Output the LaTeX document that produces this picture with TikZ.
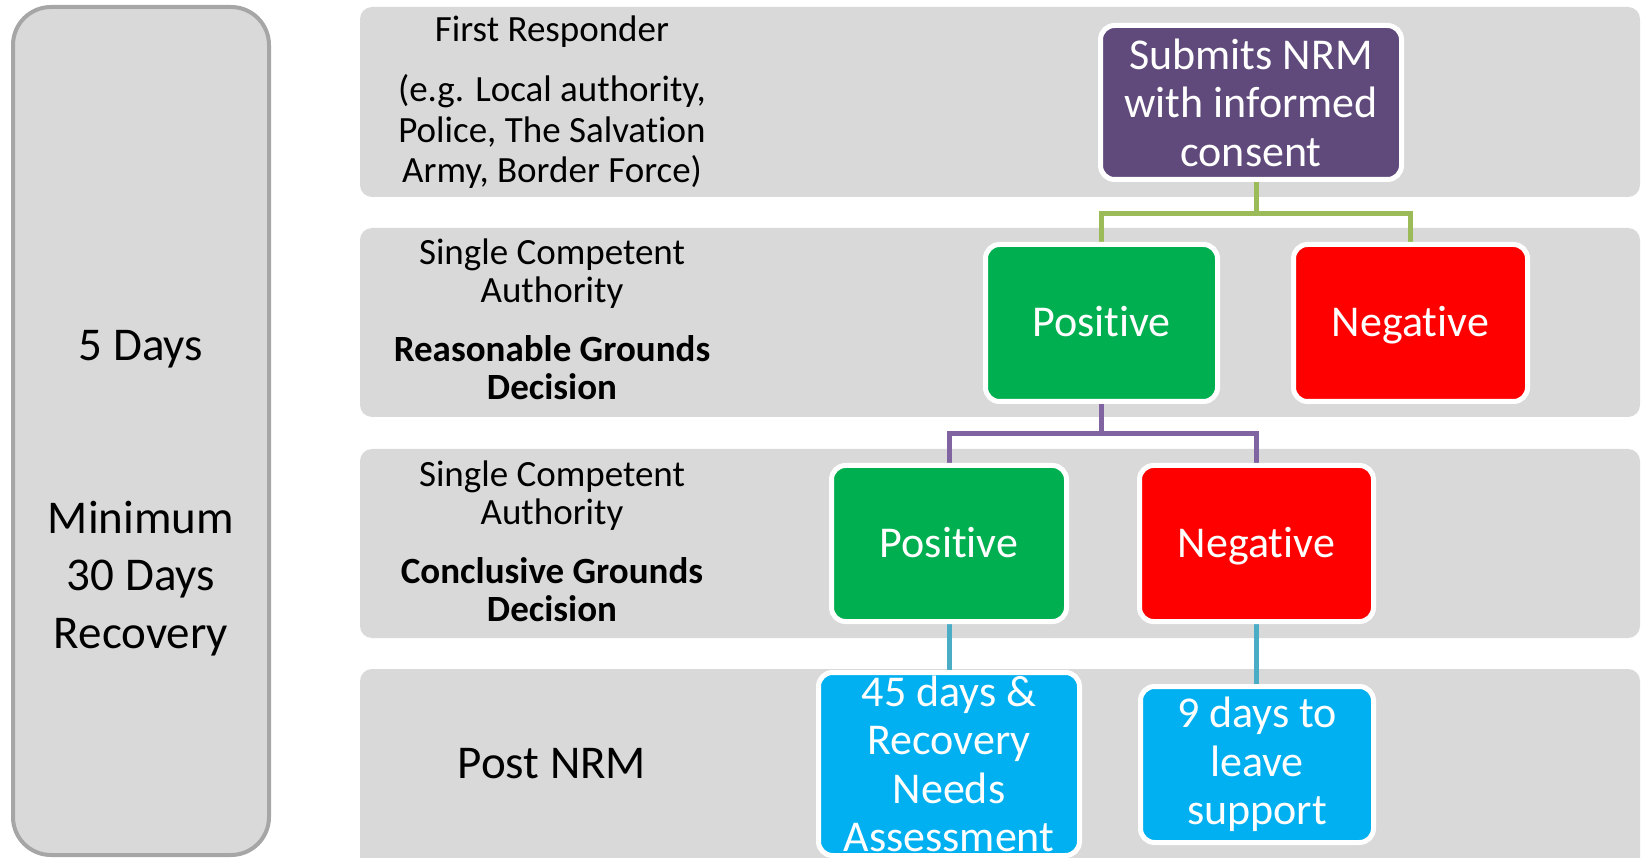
\documentclass[tikz,border=0pt]{standalone}
\usepackage{fontspec}
\setmainfont{Carlito}[Ligatures={NoCommon}]
\usetikzlibrary{calc}
\definecolor{bandgray}{HTML}{D9D9D9}
\definecolor{edgegray}{HTML}{A6A6A6}
\definecolor{nrmpurple}{HTML}{604A7B}
\definecolor{posgreen}{HTML}{00B050}
\definecolor{negred}{HTML}{FF0000}
\definecolor{infoblue}{HTML}{00B0F0}
\definecolor{linegreen}{HTML}{9BBB59}
\definecolor{linepurple}{HTML}{8064A2}
\definecolor{lineblue}{HTML}{4BACC6}
\pgfdeclarelayer{back}
\pgfdeclarelayer{mid}
\pgfsetlayers{back,mid,main}
\begin{document}
\begin{tikzpicture}[x=1pt,y=-1pt,
  sidebox/.style={draw=edgegray, line width=4pt, fill=bandgray, rounded corners=38pt,
    minimum width=256pt, minimum height=848pt, inner sep=0pt},
  band/.style={fill=bandgray, rounded corners=12pt, inner sep=0pt, minimum width=1280pt},
  cbox/.style={rounded corners=14pt, draw=white, line width=5pt, text=white, align=center,
    inner sep=0pt, font=\fontsize{44}{48.5}\selectfont},
  oneline/.style={text height=28pt, text depth=0pt},
  lbl/.style={anchor=base, inner sep=0pt, font=\fontsize{37}{40}\selectfont},
  lblbold/.style={anchor=base, inner sep=0pt, font=\fontsize{37}{40}\selectfont\bfseries},
  bigtext/.style={anchor=base, inner sep=0pt, font=\fontsize{47}{57}\selectfont},
  conn/.style={line width=5pt, line cap=butt}
]
\useasboundingbox (0,0) rectangle (1650,858);

\begin{pgfonlayer}{back}
  \node[sidebox] (side) at (141,431) {};
  \node[band, minimum height=190pt] (band1) at (1000,102) {};
  \node[band, minimum height=189pt] (band2) at (1000,322.5) {};
  \node[band, minimum height=189pt] (band3) at (1000,543.5) {};
  \node[band, minimum height=211pt] (band4) at (1000,774.5) {};
\end{pgfonlayer}

% left column texts
\node[bigtext] (fivedays) at (141,361) {5 Days};
\node[bigtext] (minA) at (141,533) {Minimum};
\node[bigtext] (minB) at (141,590.5) {30 Days};
\node[bigtext] (minC) at (141,648) {Recovery};

% band labels
\node[lbl] (frA) at (552,42) {First Responder};
\node[lbl] (frB) at (552,102) {(e.g. Local authority,};
\node[lbl] (frC) at (552,143) {Police, The Salvation};
\node[lbl] (frD) at (552,183) {Army, Border Force)};

\node[lbl] (rgA) at (552,265) {Single Competent};
\node[lbl] (rgB) at (552,303) {Authority};
\node[lblbold] (rgC) at (552,362) {Reasonable Grounds};
\node[lblbold] (rgD) at (552,400) {Decision};

\node[lbl] (cgA) at (552,486) {Single Competent};
\node[lbl] (cgB) at (552,524) {Authority};
\node[lblbold] (cgC) at (552,583) {Conclusive Grounds};
\node[lblbold] (cgD) at (552,621) {Decision};

\node[bigtext] (post) at (552,778) {Post NRM};

% coloured boxes
\node[cbox, fill=nrmpurple, minimum width=301pt, minimum height=154pt] (sub) at (1251,102.5)
  {Submits NRM\\with informed\\consent};
\node[cbox, oneline, fill=posgreen, minimum width=232pt, minimum height=157pt] (pos2) at (1101.5,323) {Positive};
\node[cbox, oneline, fill=negred, minimum width=234pt, minimum height=157pt] (neg2) at (1410.5,323) {Negative};
\node[cbox, oneline, fill=posgreen, minimum width=235pt, minimum height=156pt] (pos3) at (949,543.5) {Positive};
\node[cbox, oneline, fill=negred, minimum width=234pt, minimum height=156pt] (neg3) at (1256.5,543.5) {Negative};
\node[cbox, fill=infoblue, minimum width=261pt, minimum height=183pt] (blueL) at (949,764)
  {45 days \&\\Recovery\\Needs\\Assessment};
\node[cbox, fill=infoblue, minimum width=233pt, minimum height=156pt] (blueR) at (1257,764.5)
  {9 days to\\leave\\support};

\coordinate (j1) at ($(pos2.north)!0.5!(neg2.north)$);

\begin{pgfonlayer}{mid}
  \draw[conn, linegreen] (j1 |- sub.south) -- ++(0,32) -| (pos2.north);
  \draw[conn, linegreen] (j1 |- sub.south) -- ++(0,32) -| (neg2.north);
  \draw[conn, linepurple] (pos2.south) -- ++(0,29.5) -| (pos3.north);
  \draw[conn, linepurple] (pos2.south) -- ++(0,29.5) -| (neg3.north);
  \draw[conn, lineblue] (pos3.south) -- (blueL.north);
  \draw[conn, lineblue] (neg3.south) -- (neg3.south |- blueR.north);
\end{pgfonlayer}
\end{tikzpicture}
\end{document}
